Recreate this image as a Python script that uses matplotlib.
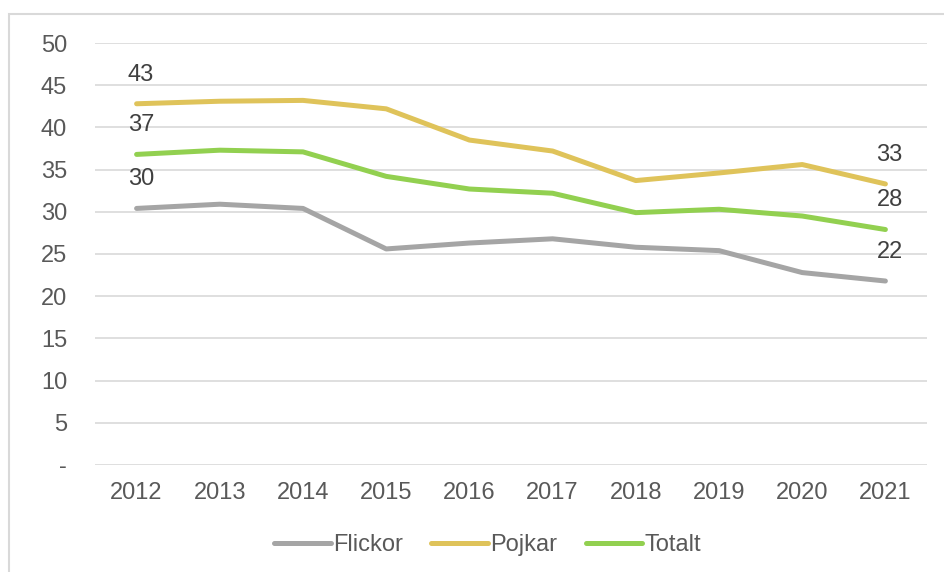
import matplotlib.pyplot as plt
from matplotlib.patches import Rectangle

plt.rcParams["font.family"] = ["Liberation Sans", "DejaVu Sans"]

years = ["2012", "2013", "2014", "2015", "2016", "2017", "2018", "2019", "2020", "2021"]
flickor = [30.4, 30.9, 30.4, 25.6, 26.3, 26.8, 25.8, 25.4, 22.8, 21.8]
pojkar = [42.8, 43.1, 43.2, 42.2, 38.5, 37.2, 33.7, 34.6, 35.6, 33.3]
totalt = [36.8, 37.3, 37.1, 34.2, 32.7, 32.2, 29.9, 30.3, 29.5, 27.9]
yticks = [0, 5, 10, 15, 20, 25, 30, 35, 40, 45, 50]
ytick_labels = ["-", "5", "10", "15", "20", "25", "30", "35", "40", "45", "50"]

series = [
    ("Flickor", flickor, "#A5A5A5"),
    ("Pojkar", pojkar, "#DFC35A"),
    ("Totalt", totalt, "#92D050"),
]

fig = plt.figure(figsize=(9.44, 5.72), dpi=100)
ax = fig.add_axes([95 / 944, 1 - 465 / 572, (927 - 95) / 944, (465 - 43) / 572])

x = list(range(len(years)))
for name, values, color in series:
    ax.plot(x, values, color=color, linewidth=3.6, solid_capstyle="round", label=name)
    # labels on first and last point
    for i in (0, len(x) - 1):
        ax.annotate(f"{values[i]:.0f}", (x[i], values[i]), xytext=(3, 13),
                    textcoords="offset points", ha="center", va="bottom",
                    fontsize=17, color="#404040")

ax.set_xlim(-0.5, len(years) - 0.5)
ax.set_ylim(0, 50)
ax.set_xticks(x)
ax.set_xticklabels(years)
ax.set_yticks(yticks)
ax.set_yticklabels(ytick_labels)
ax.tick_params(length=0, labelsize=17, labelcolor="#595959")
ax.tick_params(axis="x", pad=12)
ax.tick_params(axis="y", pad=20)
ax.grid(axis="y", color="#D9D9D9", linewidth=1.2)
ax.set_axisbelow(True)
for spine in ax.spines.values():
    spine.set_visible(False)

ax.legend(loc="center", bbox_to_anchor=(0.472, -0.19), ncol=3, frameon=False,
          fontsize=17, handlelength=2.4, handletextpad=0.1, columnspacing=1.2,
          labelcolor="#595959")

# outer chart border
fig.patches.append(Rectangle((9 / 944, -0.1), 1.2, 1 - 14 / 572 + 0.1,
                             transform=fig.transFigure, fill=False,
                             edgecolor="#D9D9D9", linewidth=1.5))

fig.savefig("out.png", dpi=100)
